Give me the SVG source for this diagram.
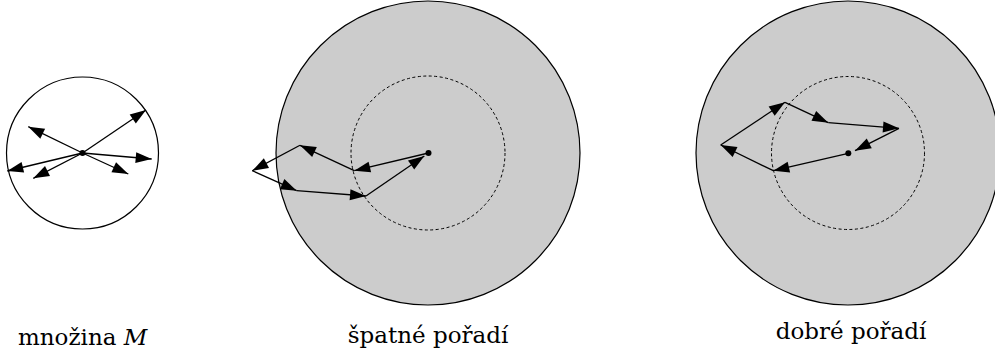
<svg xmlns="http://www.w3.org/2000/svg" xmlns:xlink="http://www.w3.org/1999/xlink" width="995" height="352" viewBox="0 0 995 352">
  <style>
    .outer { fill: #ffffff; stroke: #000; stroke-width: 1.2; }
    .big { fill: #cccccc; stroke: #000; stroke-width: 1.2; }
    .dash { fill: none; stroke: #000; stroke-width: 1; stroke-dasharray: 3 2.5; }
    .arr { fill: none; stroke: #000; stroke-width: 1.3; }
    .dot { fill: #000; }
    .head { fill: #000; }
    .lbl { font-family: "DejaVu Serif", serif; font-size: 23px; fill: #000; }
  </style>
  <defs>
    <path id="ah" class="head" d="M0,0 L-16,-5.5 L-16,5.5 z"/>
  </defs>

  <g id="set-M">
    <circle class="outer" cx="82.5" cy="153" r="76"/>
    <circle class="dot" cx="82.5" cy="153" r="3"/>
  </g>
  <g id="bad-order">
    <circle class="big" cx="428" cy="153" r="152"/>
    <circle class="dash" cx="428" cy="153" r="77"/>
    <circle class="dot" cx="428.5" cy="153" r="3"/>
  </g>
  <g id="good-order">
    <circle class="big" cx="848" cy="153" r="152"/>
    <circle class="dash" cx="848" cy="153" r="76.5"/>
    <circle class="dot" cx="848.3" cy="153.3" r="3"/>
  </g>

  <g id="connectors">
    <line class="arr" x1="82.5" y1="153" x2="28.3" y2="126.7"/>
    <use xlink:href="#ah" href="#ah" transform="translate(28.3,126.7) rotate(-154.1)"/>
    <line class="arr" x1="82.5" y1="153" x2="146" y2="110"/>
    <use xlink:href="#ah" href="#ah" transform="translate(146,110) rotate(-34.1)"/>
    <line class="arr" x1="82.5" y1="153" x2="151.7" y2="159"/>
    <use xlink:href="#ah" href="#ah" transform="translate(151.7,159) rotate(5)"/>
    <line class="arr" x1="82.5" y1="153" x2="128.3" y2="174"/>
    <use xlink:href="#ah" href="#ah" transform="translate(128.3,174) rotate(24.6)"/>
    <line class="arr" x1="82.5" y1="153" x2="7.3" y2="171"/>
    <use xlink:href="#ah" href="#ah" transform="translate(7.3,171) rotate(166.5)"/>
    <line class="arr" x1="82.5" y1="153" x2="33.3" y2="178.3"/>
    <use xlink:href="#ah" href="#ah" transform="translate(33.3,178.3) rotate(152.8)"/>

    <line class="arr" x1="428.5" y1="153" x2="354.3" y2="170.7"/>
    <use xlink:href="#ah" href="#ah" transform="translate(354.3,170.7) rotate(166.6)"/>
    <line class="arr" x1="354.3" y1="170.7" x2="300" y2="145.3"/>
    <use xlink:href="#ah" href="#ah" transform="translate(300,145.3) rotate(-154.9)"/>
    <line class="arr" x1="300" y1="145.3" x2="252.3" y2="170.7"/>
    <use xlink:href="#ah" href="#ah" transform="translate(252.3,170.7) rotate(152)"/>
    <line class="arr" x1="252.3" y1="170.7" x2="296.7" y2="190.7"/>
    <use xlink:href="#ah" href="#ah" transform="translate(296.7,190.7) rotate(24.25)"/>
    <line class="arr" x1="296.7" y1="190.7" x2="366" y2="196"/>
    <use xlink:href="#ah" href="#ah" transform="translate(366,196) rotate(4.37)"/>
    <line class="arr" x1="366" y1="196" x2="424.3" y2="156"/>
    <use xlink:href="#ah" href="#ah" transform="translate(424.3,156) rotate(-34.45)"/>

    <line class="arr" x1="848.3" y1="153.3" x2="773.3" y2="170.7"/>
    <use xlink:href="#ah" href="#ah" transform="translate(773.3,170.7) rotate(166.9)"/>
    <line class="arr" x1="773.3" y1="170.7" x2="720.7" y2="145"/>
    <use xlink:href="#ah" href="#ah" transform="translate(720.7,145) rotate(-153.96)"/>
    <line class="arr" x1="720.7" y1="145" x2="785" y2="102.3"/>
    <use xlink:href="#ah" href="#ah" transform="translate(785,102.3) rotate(-33.58)"/>
    <line class="arr" x1="785" y1="102.3" x2="828.3" y2="122.7"/>
    <use xlink:href="#ah" href="#ah" transform="translate(828.3,122.7) rotate(25.23)"/>
    <line class="arr" x1="828.3" y1="122.7" x2="899" y2="128.3"/>
    <use xlink:href="#ah" href="#ah" transform="translate(899,128.3) rotate(4.53)"/>
    <line class="arr" x1="899" y1="128.3" x2="855" y2="150.7"/>
    <use xlink:href="#ah" href="#ah" transform="translate(855,150.7) rotate(153)"/>
  </g>

  <g id="labels">
    <text class="lbl" x="18" y="345">množina <tspan font-style="italic">M</tspan></text>
    <text class="lbl" x="428" y="343" text-anchor="middle">špatné pořadí</text>
    <text class="lbl" x="851" y="339" text-anchor="middle">dobré pořadí</text>
  </g>
</svg>
